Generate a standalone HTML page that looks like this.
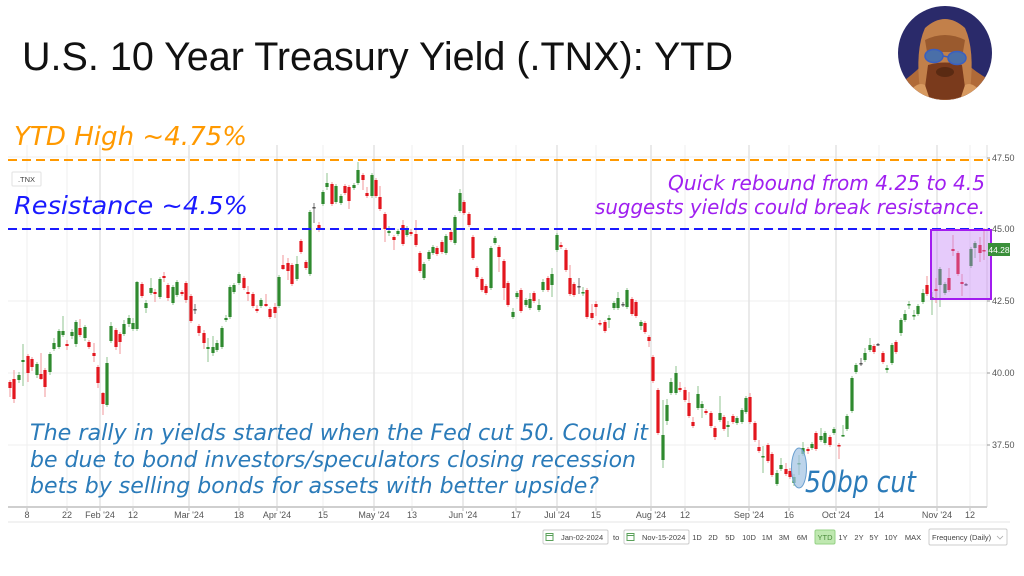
<!DOCTYPE html>
<html>
<head>
<meta charset="utf-8">
<style>
html,body{margin:0;padding:0;background:#fff;}
svg{display:block;}
.ax{font-family:"Liberation Sans",Arial,sans-serif;font-size:9px;fill:#555;}
.tb{font-family:"Liberation Sans",Arial,sans-serif;font-size:7.5px;fill:#444;}
.it{font-family:"DejaVu Sans","Liberation Sans",sans-serif;font-style:italic;}
</style>
</head>
<body>
<svg id="s" width="1024" height="576" viewBox="0 0 1024 576" xmlns="http://www.w3.org/2000/svg">
<rect width="1024" height="576" fill="#fff"/>
<!-- title -->
<text x="22" y="70" font-family="Liberation Sans, Arial, sans-serif" font-size="40" fill="#111" textLength="711" lengthAdjust="spacingAndGlyphs">U.S. 10 Year Treasury Yield (.TNX): YTD</text>

<!-- avatar -->
<defs><clipPath id="cc"><circle cx="945" cy="53" r="47"/></clipPath></defs>
<circle cx="945" cy="53" r="47" fill="#2a2a6a"/>
<g clip-path="url(#cc)">
  <path d="M895 100 L905 80 Q918 70 925 62 L965 62 Q975 72 990 80 L1000 100 Z" fill="#b06a38"/>
  <path d="M920 90 Q915 50 925 28 Q945 10 965 28 Q975 50 970 90 Z" fill="#c2804a"/>
  <path d="M925 40 Q945 30 965 40 L963 52 L927 52 Z" fill="#9a5a2e"/>
  <path d="M928 65 Q945 60 962 65 L966 95 Q945 104 924 95 Z" fill="#7a3a1c"/>
  <ellipse cx="945" cy="72" rx="9" ry="5" fill="#5a2a12"/>
  <path d="M905 100 Q915 80 925 85 L930 100 Z" fill="#d89a60"/>
  <path d="M985 100 Q975 80 965 85 L960 100 Z" fill="#d89a60"/>
  <ellipse cx="934" cy="56" rx="9" ry="6.5" fill="#4a6fa8" stroke="#3a5fc0" stroke-width="1.5"/>
  <ellipse cx="957" cy="58" rx="9" ry="6.5" fill="#4a6fa8" stroke="#3a5fc0" stroke-width="1.5"/>
  <line x1="943" y1="56" x2="948" y2="57" stroke="#3a5fc0" stroke-width="1.5"/>
</g>

<g id="grid"></g>

<!-- axis lines -->
<line x1="987" y1="145" x2="987" y2="507" stroke="#ddd" stroke-width="1"/>
<line x1="8" y1="507" x2="987" y2="507" stroke="#cfcfcf" stroke-width="2"/>
<line x1="8" y1="522" x2="1010" y2="522" stroke="#e6e6e6" stroke-width="1"/>

<g id="ylab" class="ax"></g>
<g id="xlab" class="ax"></g>

<!-- .TNX tag -->
<rect x="12" y="172" width="29" height="14" fill="#fff" stroke="#e2e2e2" rx="1"/>
<text x="26.5" y="182" text-anchor="middle" font-family="Liberation Sans, Arial, sans-serif" font-size="7.5" fill="#444">.TNX</text>

<g id="candles"></g>

<!-- dashed lines -->
<line x1="8" y1="160" x2="990" y2="160" stroke="#ff9900" stroke-width="2" stroke-dasharray="9,5"/>
<line x1="8" y1="229" x2="990" y2="229" stroke="#1a1aff" stroke-width="2" stroke-dasharray="9,5"/>

<!-- purple box -->
<rect x="931" y="230" width="60" height="69" fill="#c07cf6" fill-opacity="0.4" stroke="#a21cf0" stroke-width="2"/>

<!-- price tag -->
<rect x="988" y="243" width="22" height="13" fill="#3a8f3a"/>
<text x="999" y="253" text-anchor="middle" font-family="Liberation Sans, Arial, sans-serif" font-size="8.5" fill="#fff">44.28</text>

<!-- ellipse -->
<ellipse cx="799" cy="468" rx="7.5" ry="20" fill="#9fc2e3" fill-opacity="0.7" stroke="#6a9fcf" stroke-width="1"/>

<!-- annotations -->
<text class="it" x="14" y="145" font-size="26" fill="#ff9900" textLength="233" lengthAdjust="spacingAndGlyphs">YTD High ~4.75%</text>
<text class="it" x="14" y="214" font-size="25" fill="#1a1aff" textLength="234" lengthAdjust="spacingAndGlyphs">Resistance ~4.5%</text>
<text class="it" x="668" y="190" font-size="20" fill="#a020f0" textLength="317" lengthAdjust="spacingAndGlyphs">Quick rebound from 4.25 to 4.5</text>
<text class="it" x="595" y="214" font-size="20" fill="#a020f0" textLength="390" lengthAdjust="spacingAndGlyphs">suggests yields could break resistance.</text>
<text class="it" x="30" y="440" font-size="22" fill="#2b7bb9" textLength="618" lengthAdjust="spacingAndGlyphs">The rally in yields started when the Fed cut 50. Could it</text>
<text class="it" x="30" y="467" font-size="22" fill="#2b7bb9" textLength="606" lengthAdjust="spacingAndGlyphs">be due to bond investors/speculators closing recession</text>
<text class="it" x="30" y="493" font-size="22" fill="#2b7bb9" textLength="569" lengthAdjust="spacingAndGlyphs">bets by selling bonds for assets with better upside?</text>
<text class="it" x="805" y="492" font-size="29" fill="#2b7bb9" textLength="111" lengthAdjust="spacingAndGlyphs">50bp cut</text>

<!-- toolbar -->
<g class="tb">
  <rect x="543" y="530" width="65" height="14" fill="#fff" stroke="#ccc" rx="1.5"/>
  <rect x="546" y="533.5" width="7" height="7" fill="none" stroke="#5aa05a" stroke-width="1"/>
  <line x1="546" y1="535.5" x2="553" y2="535.5" stroke="#5aa05a" stroke-width="1"/>
  <text x="561" y="540">Jan-02-2024</text>
  <text x="613" y="540">to</text>
  <rect x="624" y="530" width="65" height="14" fill="#fff" stroke="#ccc" rx="1.5"/>
  <rect x="627" y="533.5" width="7" height="7" fill="none" stroke="#5aa05a" stroke-width="1"/>
  <line x1="627" y1="535.5" x2="634" y2="535.5" stroke="#5aa05a" stroke-width="1"/>
  <text x="642" y="540">Nov-15-2024</text>
  <text x="697" y="540" text-anchor="middle">1D</text>
  <text x="713" y="540" text-anchor="middle">2D</text>
  <text x="730" y="540" text-anchor="middle">5D</text>
  <text x="749" y="540" text-anchor="middle">10D</text>
  <text x="767" y="540" text-anchor="middle">1M</text>
  <text x="784" y="540" text-anchor="middle">3M</text>
  <text x="802" y="540" text-anchor="middle">6M</text>
  <rect x="815" y="530" width="20" height="14" fill="#bfe8b0" stroke="#95d285" rx="1.5"/>
  <text x="825" y="540" text-anchor="middle" fill="#4a8a3a">YTD</text>
  <text x="843" y="540" text-anchor="middle">1Y</text>
  <text x="859" y="540" text-anchor="middle">2Y</text>
  <text x="874" y="540" text-anchor="middle">5Y</text>
  <text x="891" y="540" text-anchor="middle">10Y</text>
  <text x="913" y="540" text-anchor="middle">MAX</text>
  <rect x="929" y="529" width="78" height="16" fill="#fff" stroke="#ccc" rx="1.5"/>
  <text x="932" y="540">Frequency (Daily)</text>
  <path d="M997 536 L1000 539 L1003 536" fill="none" stroke="#aaa" stroke-width="0.8"/>
</g>
</svg>
<script>
(function(){
var NS="http://www.w3.org/2000/svg";
function el(t,a,p){var e=document.createElementNS(NS,t);for(var k in a)e.setAttribute(k,a[k]);p.appendChild(e);return e;}
var grid=document.getElementById('grid');
// horizontal grid
[157,229,301,373,445].forEach(function(y){el('line',{x1:8,y1:y,x2:987,y2:y,stroke:'#efefef','stroke-width':1},grid);});
var xs=[[27,'8',0],[67,'22',0],[100,"Feb '24",1],[133,'12',0],[189,"Mar '24",1],[239,'18',0],[277,"Apr '24",1],[323,'15',0],[374,"May '24",1],[412,'13',0],[463,"Jun '24",1],[516,'17',0],[557,"Jul '24",1],[596,'15',0],[651,"Aug '24",1],[685,'12',0],[749,"Sep '24",1],[789,'16',0],[836,"Oct '24",1],[879,'14',0],[937,"Nov '24",1],[970,'12',0]];
var xl=document.getElementById('xlab');
xs.forEach(function(d){
  el('line',{x1:d[0],y1:145,x2:d[0],y2:507,stroke:d[2]?'#e3e3e3':'#efefef','stroke-width':d[2]?1.5:1},grid);
  el('line',{x1:d[0],y1:507,x2:d[0],y2:511,stroke:'#bbb','stroke-width':1},grid);
  var t=el('text',{x:d[0],y:518,'text-anchor':'middle'},xl);t.textContent=d[1];
});
var yl=document.getElementById('ylab');
[[158,'47.50'],[229,'45.00'],[301,'42.50'],[373,'40.00'],[445,'37.50']].forEach(function(d){
  el('line',{x1:987,y1:d[0],x2:990,y2:d[0],stroke:'#999','stroke-width':1},yl);
  var t=el('text',{x:992,y:d[0]+3},yl);t.textContent=d[1];
});
var C=[
[10,382,388,'r',380,397],[14,379,399,'r',370,403],[19,375,380,'g',372,383],[23,360,362,'g',344,386],[28,356,373,'r',354,382],[32,359,367,'r',357,371],[37,364,375,'g',362,378],[41,374,379,'r',353,380],[45,370,387,'r',368,397],[50,354,372,'g',352,375],
[54,343,349,'g',338,351],[59,331,347,'g',329,349],[63,331,335,'g',316,337],[67,344,346,'r',340,350],[72,332,336,'g',329,339],[76,322,344,'g',320,347],[80,328,335,'r',319,337],[85,327,338,'g',325,341],[89,342,347,'r',340,349],[94,353,356,'r',343,362],
[98,367,383,'r',365,388],[103,393,404,'r',392,415],[107,363,405,'g',357,407],[111,326,341,'g',322,343],[116,330,347,'r',328,350],[120,334,342,'r',332,354],[124,324,334,'g',320,336],[129,318,324,'g',315,327],[133,323,329,'g',318,331],[137,282,329,'g',281,331],
[142,284,296,'r',282,298],[146,303,308,'g',300,313],[151,288,293,'g',278,295],[155,292,294,'r',289,302],[160,279,297,'g',277,299],[164,276,278,'r',272,282],[168,285,298,'r',283,301],[173,287,303,'g',285,305],[177,282,295,'g',280,297],[182,292,294,'r',290,296],
[186,283,300,'r',281,303],[191,296,321,'r',294,323],[195,309,310,'k',304,314],[199,326,333,'r',324,336],[204,333,343,'r',330,349],[208,347,349,'g',338,362],[213,347,353,'g',336,356],[217,343,350,'g',340,352],[222,328,347,'g',326,349],[226,318,320,'g',315,322],
[230,287,317,'g',285,319],[234,285,292,'g',283,294],[239,274,283,'g',272,285],[244,278,288,'r',276,290],[248,292,294,'r',286,301],[253,294,306,'r',292,308],[257,309,311,'r',305,313],[261,300,306,'g',298,308],[266,304,306,'r',294,307],[270,309,317,'r',307,319],
[275,307,313,'r',303,318],[279,277,306,'g',275,308],[283,265,269,'r',255,270],[288,263,271,'r',258,280],[292,265,284,'r',263,286],[297,264,279,'g',256,281],[301,241,252,'r',239,254],[306,262,268,'r',260,270],[310,212,274,'g',210,276],[314,207,208,'k',203,223],
[319,225,230,'r',222,232],[323,192,204,'g',190,206],[327,183,187,'g',173,190],[332,184,204,'r',182,206],[336,186,202,'g',184,204],[341,196,203,'g',194,205],[345,186,193,'r',184,195],[349,187,201,'r',185,209],[354,185,188,'g',183,190],[358,170,183,'g',162,185],
[363,175,180,'r',173,190],[367,193,196,'r',187,198],[372,175,196,'g',173,198],[376,180,196,'r',178,198],[380,197,209,'r',186,211],[385,214,229,'r',212,242],[389,231,233,'g',226,236],[394,237,240,'r',235,250],[398,231,234,'g',229,236],[403,225,244,'r',220,246],
[407,228,235,'g',226,237],[411,232,234,'r',229,236],[416,234,245,'r',220,247],[420,253,271,'r',251,273],[424,264,278,'g',262,280],[429,252,259,'g',250,261],[433,247,253,'g',245,255],[437,248,254,'r',246,256],[442,242,252,'r',240,254],[446,236,253,'g',234,255],
[451,232,240,'r',230,242],[455,217,243,'g',215,245],[460,193,211,'g',189,213],[464,202,213,'r',200,215],[469,214,225,'r',212,227],[473,237,258,'r',235,260],[477,268,277,'r',266,279],[482,279,290,'r',277,292],[486,286,293,'r',284,295],[491,248,288,'g',246,290],
[495,238,243,'g',236,245],[499,247,257,'r',245,272],[504,261,288,'r',259,300],[508,283,305,'r',281,307],[513,312,317,'g',308,319],[517,293,297,'g',291,299],[521,290,311,'r',288,313],[526,300,305,'g',298,307],[530,299,308,'g',293,310],[534,293,301,'r',291,303],
[539,305,310,'g',299,312],[543,282,290,'g',279,292],[548,278,290,'r',276,292],[552,274,285,'g',268,297],[557,235,250,'g',233,252],[561,245,247,'r',242,249],[566,250,270,'r',248,272],[570,278,294,'r',265,296],[574,284,295,'r',282,297],[579,286,287,'k',278,294],
[583,292,293,'g',287,296],[587,290,317,'r',288,319],[592,313,318,'r',304,320],[596,304,307,'r',301,316],[600,323,324,'r',320,326],[605,322,331,'r',320,333],[609,318,320,'g',315,328],[614,303,308,'g',301,310],[618,298,308,'g',292,310],[623,304,305,'k',302,307],
[627,290,307,'g',288,309],[632,299,314,'r',297,316],[636,302,316,'r',300,318],[641,322,326,'g',320,330],[645,323,332,'r',321,334],[649,337,341,'r',335,347],[653,357,381,'r',355,383],[658,390,433,'r',388,435],[663,435,460,'g',400,468],[667,405,421,'g',399,425],
[671,382,393,'g',378,395],[676,373,393,'g',366,395],[680,388,390,'r',382,392],[685,390,400,'r',387,402],[689,403,416,'r',392,418],[693,422,426,'r',417,428],[698,394,408,'g',386,410],[702,404,408,'g',401,418],[706,411,413,'r',409,415],[711,413,426,'r',411,428],
[715,428,437,'r',426,440],[720,413,420,'g',396,422],[724,417,429,'r',415,431],[728,425,427,'g',421,437],[733,416,422,'r',414,424],[737,418,423,'g',416,425],[742,410,422,'g',408,424],[746,398,412,'g',396,414],[750,397,422,'r',393,424],[755,423,440,'r',421,442],
[759,447,451,'r',440,453],[763,456,457,'g',446,473],[768,445,461,'r',443,463],[772,454,475,'r',452,477],[777,473,484,'g',470,486],[781,465,469,'g',458,471],[786,469,474,'r',463,476],[790,471,477,'r',468,479],[794,477,483,'g',474,486],[799,463,464,'g',455,475],
[803,448,454,'g',442,456],[808,449,451,'r',447,454],[812,444,448,'g',442,450],[816,433,449,'r',431,451],[821,436,440,'g',428,442],[825,433,443,'g',431,445],[830,437,445,'r',435,447],[834,429,433,'g',427,435],[839,445,446,'r',443,459],[843,435,436,'g',425,437],
[847,416,429,'g',414,431],[852,378,411,'g',376,413],[856,365,372,'g',363,374],[861,363,364,'k',358,366],[865,353,360,'g',348,362],[870,345,350,'g',338,352],[874,346,352,'r',344,354],[878,344,345,'k',343,346],[883,353,362,'r',351,364],[887,368,370,'g',365,373],
[892,345,363,'g',343,365],[896,342,352,'r',340,354],[901,320,333,'g',318,336],[905,314,320,'g',310,322],[909,304,305,'g',301,309],[914,315,316,'g',310,320],[918,306,314,'g',304,316],[923,293,302,'g',289,304],[927,285,294,'r',276,296],[932,297,298,'g',292,315],
[936,289,291,'r',278,303],[940,269,285,'g',267,307],[945,284,293,'g',282,295],[949,278,290,'r',268,292],[953,249,251,'r',235,256],[958,253,274,'r',251,276],[962,282,284,'r',274,296],[966,284,285,'k',283,286],[971,249,266,'g',247,268],[975,243,248,'g',241,258],
[980,245,253,'r',237,262],[984,250,251,'r',228,260]
];
var g=document.getElementById('candles');
var body={r:'#e3161e',g:'#2f8a2f',k:'#555'};
var wick={r:'#f1959a',g:'#8fc38f',k:'#777'};
C.forEach(function(c){
  var x=c[0],t=c[1],b=c[2],k=c[3],wt=c[4],wb=c[5];
  el('line',{x1:x,y1:wt,x2:x,y2:wb,stroke:wick[k],'stroke-width':1},g);
  var h=Math.max(b-t,1.5);
  el('rect',{x:x-1.6,y:t,width:3.2,height:h,fill:body[k]},g);
});
})();
</script>
</body>
</html>
